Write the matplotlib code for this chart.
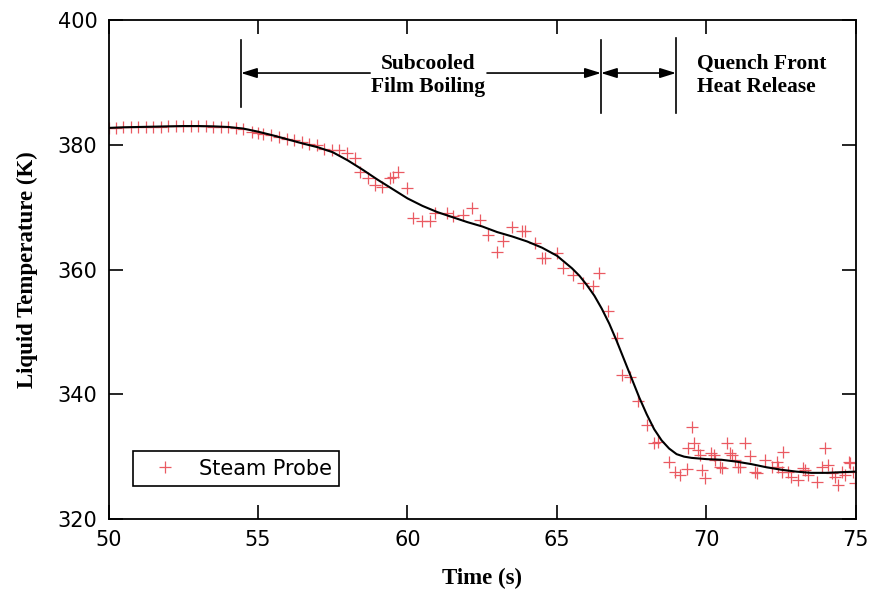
import matplotlib
matplotlib.use("Agg")
import matplotlib.pyplot as plt

# Steam probe measurements: time (s) and liquid temperature (K)
probe_time = [
    50.0, 50.25, 50.5, 50.75, 51.0, 51.25, 51.5, 51.75, 52.0, 52.25,
    52.5, 52.75, 53.0, 53.25, 53.5, 53.75, 54.0, 54.25, 54.5, 54.79,
    55.0, 55.18, 55.42, 55.7, 55.96, 56.2, 56.46, 56.71, 56.96, 57.21,
    57.46, 57.72, 57.99, 58.24, 58.41, 58.69, 58.91, 59.14, 59.41, 59.52,
    59.69, 59.97, 60.19, 60.47, 60.75, 60.92, 61.31, 61.53, 61.87, 62.15,
    62.42, 62.7, 62.98, 63.2, 63.48, 63.82, 63.93, 64.26, 64.49, 64.6,
    64.99, 65.21, 65.55, 65.88, 66.21, 66.42, 66.71, 67.0, 67.16, 67.44,
    67.7, 68.0, 68.25, 68.39, 68.75, 68.95, 69.11, 69.34, 69.39, 69.5,
    69.58, 69.72, 69.79, 69.84, 69.95, 70.15, 70.25, 70.29, 70.45, 70.51,
    70.68, 70.79, 70.84, 70.96, 71.06, 71.12, 71.29, 71.45, 71.62, 71.68,
    71.96, 72.18, 72.35, 72.4, 72.51, 72.57, 72.74, 72.84, 73.05, 73.24,
    73.29, 73.41, 73.69, 73.86, 73.97, 74.08, 74.19, 74.3, 74.41, 74.52,
    74.63, 74.75, 74.8, 74.91, 74.96,
]
probe_temp = [
    382.7, 382.7, 382.8, 382.8, 382.8, 382.9, 382.9, 382.9, 383.0, 383.0,
    383.0, 383.0, 383.0, 383.0, 382.9, 382.9, 382.8, 382.7, 382.5, 382.1,
    381.9, 381.8, 381.5, 381.3, 381.0, 380.8, 380.5, 380.2, 379.9, 379.4,
    379.2, 379.2, 378.6, 377.8, 375.7, 374.6, 373.5, 373.3, 374.6, 374.9,
    375.7, 373.0, 368.3, 367.8, 367.8, 369.0, 369.0, 368.6, 368.8, 369.8,
    368.0, 365.5, 362.8, 364.5, 366.8, 366.2, 366.1, 364.2, 361.9, 361.9,
    362.6, 360.3, 359.1, 357.8, 357.4, 359.4, 353.3, 349.0, 343.1, 342.8,
    338.9, 335.1, 332.2, 332.4, 329.2, 327.5, 327.1, 328.0, 331.4, 334.8,
    332.2, 331.1, 330.3, 327.9, 326.6, 330.6, 330.3, 329.5, 328.4, 328.2,
    332.2, 330.6, 330.3, 329.5, 328.4, 328.4, 332.2, 330.1, 327.6, 327.4,
    329.5, 328.3, 329.2, 328.4, 327.6, 330.7, 327.6, 326.8, 326.3, 328.2,
    327.9, 327.1, 325.9, 328.4, 331.4, 328.7, 327.4, 326.8, 325.5, 327.6,
    327.1, 329.2, 329.0, 327.6, 325.8,
]

# Smoothed fit through the probe data
fit_time = [
    50.0, 50.5, 51.0, 51.5, 52.0, 52.5, 53.0, 53.5, 54.0, 54.5,
    55.0, 55.5, 56.0, 56.5, 57.0, 57.5, 58.0, 58.5, 59.0, 59.5,
    60.0, 60.5, 61.0, 61.5, 62.0, 62.5, 63.0, 63.5, 64.0, 64.5,
    65.0, 65.5, 65.75, 66.0, 66.25, 66.5, 66.75, 67.0, 67.25, 67.5,
    67.75, 68.0, 68.25, 68.5, 68.75, 69.0, 69.25, 69.5, 70.0, 70.5,
    71.0, 71.5, 72.0, 72.5, 73.0, 73.5, 74.0, 74.5, 75.0,
]
fit_temp = [
    382.7, 382.8, 382.85, 382.9, 382.95, 383.0, 383.0, 382.95, 382.85, 382.6,
    382.1, 381.5, 380.85, 380.2, 379.6, 378.8, 377.5, 376.0, 374.4, 372.9,
    371.4, 370.2, 369.2, 368.4, 367.6, 366.9, 366.0, 365.3, 364.5, 363.5,
    362.2, 360.2, 359.0, 357.5, 355.8, 353.7, 351.3, 348.5, 345.5, 342.5,
    339.5, 336.8, 334.4, 332.6, 331.3, 330.4, 330.0, 329.8, 329.6, 329.5,
    329.2, 328.8, 328.3, 327.9, 327.6, 327.4, 327.4, 327.5, 327.6,
]

# Regime boundaries (s) and labels
regime_bounds = [54.43, 66.47, 68.98]
regime_labels = ["Subcooled\nFilm Boiling", "Quench Front\nHeat Release"]

x_ticks = [50, 55, 60, 65, 70, 75]
y_ticks = [320, 340, 360, 380, 400]

fig = plt.figure(figsize=(8.73, 5.92), dpi=100)
ax = fig.add_axes([0.1243, 0.1233, 0.8562, 0.8429])

ax.plot(probe_time, probe_temp, linestyle="none", marker="+", markersize=9,
        markeredgewidth=0.9, color="#ea5a62", label="Steam Probe", zorder=2)
ax.plot(fit_time, fit_temp, color="black", linewidth=1.5, zorder=3)

ax.set_xlim(50, 75)
ax.set_ylim(320, 400)
ax.set_xticks(x_ticks)
ax.set_yticks(y_ticks)
ax.tick_params(direction="in", length=10, width=1.2, top=True, right=True,
               labelsize=15, pad=8)
for sp in ax.spines.values():
    sp.set_linewidth(1.3)

serif_bold = dict(family="Liberation Serif", weight="bold")
ax.set_xlabel("Time (s)", fontsize=16.5, labelpad=13, **serif_bold)
ax.set_ylabel("Liquid Temperature (K)", fontsize=16.5, labelpad=14, **serif_bold)

# Regime markers: vertical bars and arrows
arrow_y = 391.5
ax.plot([regime_bounds[0]] * 2, [386.1, 396.8], color="black", lw=1.2)
ax.plot([regime_bounds[1]] * 2, [385.1, 396.8], color="black", lw=1.2)
ax.plot([regime_bounds[2]] * 2, [385.1, 397.1], color="black", lw=1.2)

arrow_kw = dict(color="black", lw=1.2, shrinkA=0, shrinkB=0)
head = "head_length=0.8,head_width=0.25"
ax.annotate("", xy=(regime_bounds[0], arrow_y), xytext=(58.75, arrow_y),
            arrowprops=dict(arrowstyle="-|>," + head, mutation_scale=12, **arrow_kw))
ax.annotate("", xy=(regime_bounds[1], arrow_y), xytext=(62.66, arrow_y),
            arrowprops=dict(arrowstyle="-|>," + head, mutation_scale=12, **arrow_kw))
ax.annotate("", xy=(regime_bounds[2], arrow_y), xytext=(regime_bounds[1], arrow_y),
            arrowprops=dict(arrowstyle="<|-|>," + head, mutation_scale=12, **arrow_kw))

ax.text(60.69, 391.1, regime_labels[0], ha="center", va="center",
        fontsize=15.5, linespacing=1.2, **serif_bold)
ax.text(69.68, 391.1, regime_labels[1], ha="left", va="center",
        fontsize=15.5, linespacing=1.2, **serif_bold)

leg = ax.legend(loc="lower left", bbox_to_anchor=(0.033, 0.066), borderaxespad=0,
                fancybox=False, edgecolor="black", framealpha=1, fontsize=15,
                handlelength=2.4, handletextpad=0.4, borderpad=0.35)
leg.get_frame().set_linewidth(1.2)

fig.savefig("out.png", dpi=100)
